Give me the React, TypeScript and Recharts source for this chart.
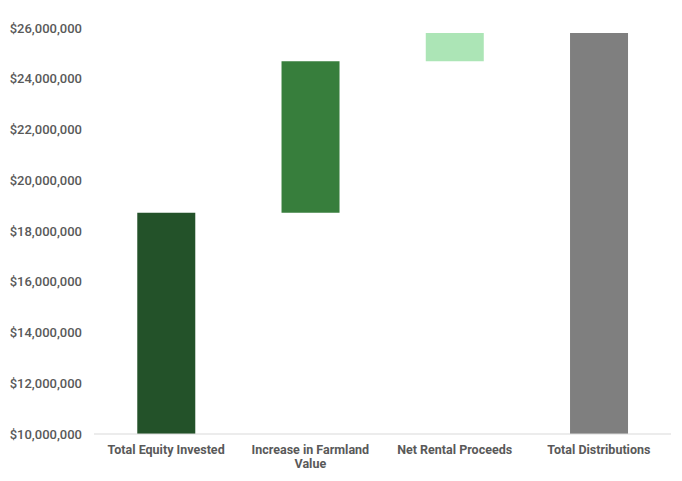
import React from 'react';
import { BarChart, Bar, XAxis, YAxis, Cell, Text } from 'recharts';

// Waterfall steps (USD)
const categories: string[] = [
  'Total Equity Invested',
  'Increase in Farmland Value',
  'Net Rental Proceeds',
  'Total Distributions',
];
const baseValues: number[] = [0, 18720000, 24690000, 0];
const stepValues: number[] = [18720000, 5970000, 1110000, 25800000];
const barColors: string[] = ['#235229', '#377e3c', '#ace5b6', '#7f7f7f'];
const yTicks: number[] = [10000000, 12000000, 14000000, 16000000, 18000000, 20000000, 22000000, 24000000, 26000000];

const data = categories.map((name, i) => ({
  name,
  base: baseValues[i],
  step: stepValues[i],
}));

const fontFamily = 'Roboto, "Noto Sans", sans-serif';

const formatDollar = (v: number) => '$' + v.toLocaleString('en-US');

const CategoryTick = (props: any) => {
  const { x, y, payload } = props;
  return (
    <Text
      x={x}
      y={y}
      width={145}
      textAnchor="middle"
      verticalAnchor="start"
      lineHeight={14}
      fontSize={12.5}
      fontWeight={700}
      fontFamily={fontFamily}
      fill="#595959"
    >
      {payload.value}
    </Text>
  );
};

const App: React.FC = () => {
  return (
    <div style={{ position: 'absolute', left: 0, top: 0, width: 682, height: 481, background: '#fff' }}>
      <BarChart
        width={682}
        height={481}
        data={data}
        margin={{ top: 28, right: 11, left: 0, bottom: 0 }}
        barCategoryGap="30%"
      >
        <XAxis
          dataKey="name"
          height={47}
          tickLine={false}
          axisLine={{ stroke: '#d9d9d9' }}
          tickSize={0}
          tickMargin={11}
          interval={0}
          tick={<CategoryTick />}
        />
        <YAxis
          width={94}
          domain={[10000000, 26000000]}
          ticks={yTicks}
          allowDataOverflow
          axisLine={false}
          tickLine={false}
          tickSize={0}
          tickMargin={12}
          tickFormatter={formatDollar}
          tick={{ fontSize: 13, fontWeight: 500, fill: '#595959', fontFamily }}
        />
        <Bar dataKey="base" stackId="w" fill="transparent" isAnimationActive={false} />
        <Bar dataKey="step" stackId="w" isAnimationActive={false}>
          {data.map((_, i) => (
            <Cell key={i} fill={barColors[i]} />
          ))}
        </Bar>
      </BarChart>
    </div>
  );
};

export default App;
